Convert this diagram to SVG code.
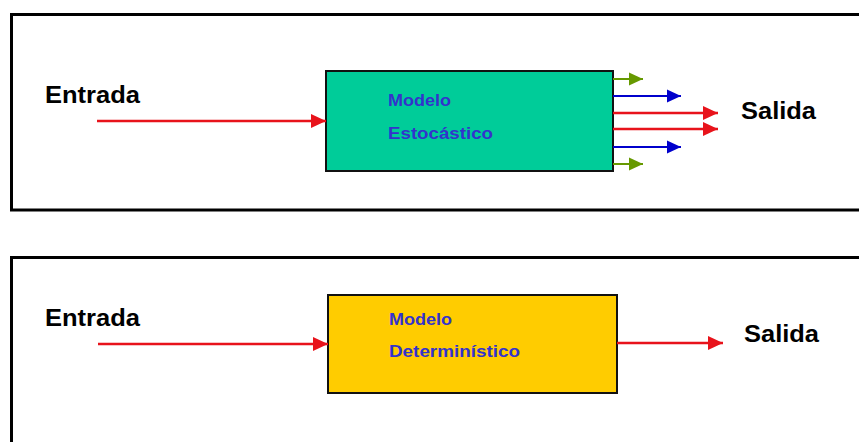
<svg xmlns="http://www.w3.org/2000/svg" width="859" height="442" viewBox="0 0 859 442">
  <style>
    .frame { fill: none; stroke: #000; stroke-width: 3; }
    .box { stroke: #111; stroke-width: 2; }
    .label { font-family: "Liberation Sans", Arial, sans-serif; font-weight: bold; font-size: 23px; fill: #000; }
    .inner { font-family: "Liberation Sans", Arial, sans-serif; font-weight: bold; font-size: 17px; fill: #3333CC; }
    .red { stroke: #E8131B; stroke-width: 2.5; fill: none; marker-end: url(#hRed); }
    .blue { stroke: #0000CC; stroke-width: 2; fill: none; marker-end: url(#hBlue); }
    .green { stroke: #669900; stroke-width: 2; fill: none; marker-end: url(#hGreen); }
  </style>
  <defs>
    <marker id="hRed" markerUnits="userSpaceOnUse" markerWidth="16" markerHeight="14" refX="15" refY="7" orient="auto">
      <path d="M0,0 L15,7 L0,14 Z" fill="#E8131B"/>
    </marker>
    <marker id="hBlue" markerUnits="userSpaceOnUse" markerWidth="16" markerHeight="14" refX="14" refY="7" orient="auto">
      <path d="M0,0.5 L14,7 L0,13.5 Z" fill="#0000CC"/>
    </marker>
    <marker id="hGreen" markerUnits="userSpaceOnUse" markerWidth="16" markerHeight="14" refX="14" refY="7" orient="auto">
      <path d="M0,0.5 L14,7 L0,13.5 Z" fill="#669900"/>
    </marker>
  </defs>
  <rect width="859" height="442" fill="#fff"/>

  <!-- frames -->
  <rect class="frame" x="11.5" y="14.5" width="860" height="195.5"/>
  <rect class="frame" x="11.5" y="257.5" width="860" height="200"/>

  <!-- stochastic model -->
  <g id="modelo-estocastico">
    <rect class="box" x="326" y="71" width="287" height="100" fill="#00CC99"/>
    <text class="inner" x="388" y="106" textLength="63" lengthAdjust="spacingAndGlyphs">Modelo</text>
    <text class="inner" x="388" y="139" textLength="105" lengthAdjust="spacingAndGlyphs">Estocástico</text>
  </g>
  <g id="entrada-1">
    <text class="label" x="45" y="103" textLength="95" lengthAdjust="spacingAndGlyphs">Entrada</text>
  </g>
  <g id="salida-1">
    <text class="label" x="741" y="119" textLength="75" lengthAdjust="spacingAndGlyphs">Salida</text>
  </g>

  <!-- deterministic model -->
  <g id="modelo-determinista">
    <rect class="box" x="328" y="295" width="289" height="98" fill="#FFCC00"/>
    <text class="inner" x="389" y="325" textLength="63" lengthAdjust="spacingAndGlyphs">Modelo</text>
    <text class="inner" x="389" y="357" textLength="131" lengthAdjust="spacingAndGlyphs">Determinístico</text>
  </g>
  <g id="entrada-2">
    <text class="label" x="45" y="326" textLength="95" lengthAdjust="spacingAndGlyphs">Entrada</text>
  </g>
  <g id="salida-2">
    <text class="label" x="744" y="342" textLength="75" lengthAdjust="spacingAndGlyphs">Salida</text>
  </g>

  <!-- connectors -->
  <g id="connectors">
    <line class="red" x1="97" y1="121" x2="326" y2="121"/>
    <line class="green" x1="613" y1="79" x2="643" y2="79"/>
    <line class="blue" x1="613" y1="96" x2="681" y2="96"/>
    <line class="red" x1="613" y1="113" x2="718" y2="113"/>
    <line class="red" x1="613" y1="129" x2="718" y2="129"/>
    <line class="blue" x1="613" y1="147" x2="681" y2="147"/>
    <line class="green" x1="613" y1="164" x2="643" y2="164"/>

    <line class="red" x1="98" y1="344" x2="328" y2="344"/>
    <line class="red" x1="617" y1="343" x2="723" y2="343"/>
  </g>
</svg>
